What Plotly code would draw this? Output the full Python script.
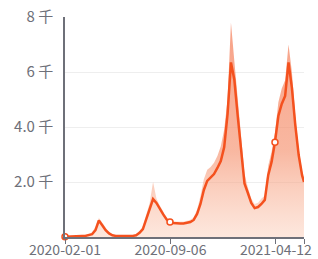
import pandas as pd
import plotly.graph_objects as go

# weekly sample dates from 2020-02-01, plus the final date
week_starts = pd.date_range("2020-02-01", periods=71, freq="7D")
end_date = pd.Timestamp("2021-06-09")
dates = list(week_starts) + [end_date]

# smoothed (moving average) series
line_vals = [
    10, 20, 25, 30, 30, 35, 40, 60,
    100, 250, 600, 430, 250, 130, 60,
    40, 35, 30, 30, 35, 40,
    60, 150, 290, 650, 1050, 1380, 1240, 1020, 820, 640,
    545, 510, 490, 490, 490, 510, 545, 620, 840, 1200,
    1710, 2040, 2150, 2290, 2510, 2760, 3260, 4470, 6350, 5720,
    4400, 3150, 1950, 1600, 1240, 1050, 1090, 1200, 1350, 2250,
    2730, 3450, 4400, 4840, 5130, 6350, 5420, 4070, 2980, 2250,
    2000,
]

# raw daily values (bars)
raw_vals = [
    20, 30, 35, 40, 40, 45, 55, 90,
    180, 380, 700, 520, 320, 170, 80,
    50, 45, 40, 40, 45, 55,
    90, 220, 400, 800, 1250, 2000, 1400, 1150, 920, 720,
    620, 580, 560, 560, 560, 590, 630, 720, 1000, 1500,
    2100, 2450, 2550, 2700, 2950, 3300, 3900, 5000, 7800, 6400,
    5000, 3700, 2300, 1800, 1400, 1200, 1250, 1400, 1500, 2600,
    3100, 3800, 4900, 5400, 5700, 7000, 6000, 4400, 3200, 2400,
    2100,
]

marker_idx = [0, 31, 62]

tick_dates = ["2020-02-01", "2020-09-06", "2021-04-12", "2021-06-09"]
tick_text = ["2020-02-01", "2020-09-06", "2021-04-12", ""]
y_ticks = [2000, 4000, 6000, 8000]
y_text = ["2.0 千", "4.0 千", "6 千", "8 千"]

LINE = "#f4511e"
AXIS = "#6e7079"
FONT = "Noto Sans CJK SC, Noto Sans, sans-serif"

fig = go.Figure()
fig.add_trace(go.Scatter(
    x=dates, y=raw_vals, mode="lines", line=dict(width=0),
    fill="tozeroy",
    fillgradient=dict(type="vertical",
                      colorscale=[[0, "rgba(250,195,170,0.4)"],
                                  [0.4, "rgba(245,145,110,0.65)"],
                                  [1, "rgba(245,130,95,0.75)"]]),
    hoverinfo="skip", showlegend=False,
))
fig.add_trace(go.Scatter(
    x=dates, y=line_vals, mode="lines",
    line=dict(color=LINE, width=2.5), showlegend=False,
))
fig.add_trace(go.Scatter(
    x=[dates[i] for i in marker_idx], y=[line_vals[i] for i in marker_idx],
    mode="markers",
    marker=dict(size=6, color="white", line=dict(color=LINE, width=1.5)),
    showlegend=False, cliponaxis=False,
))

fig.update_layout(
    width=318, height=259,
    margin=dict(l=65, r=14, t=17, b=22, autoexpand=False),
    paper_bgcolor="white", plot_bgcolor="white",
    font=dict(family=FONT, size=14, color=AXIS),
)
fig.update_xaxes(
    type="date", range=["2020-02-01", "2021-06-09"], automargin=False,
    tickvals=tick_dates, ticktext=tick_text,
    ticks="outside", ticklen=5, tickcolor=AXIS, ticklabelstandoff=-6,
    showline=True, linecolor=AXIS, linewidth=1.5,
    showgrid=False, zeroline=False,
    tickfont=dict(family=FONT, size=14, color=AXIS),
)
fig.update_yaxes(
    range=[0, 8000], tickvals=y_ticks, ticktext=y_text, automargin=False,
    showline=True, linecolor=AXIS, linewidth=1.5,
    showgrid=True, gridcolor="#eeeeee", gridwidth=1,
    zeroline=False, ticks="", ticklabelstandoff=7,
    tickfont=dict(family=FONT, size=15, color=AXIS),
)

fig.write_html("out.html", config={"displayModeBar": False})

# remove the default page margin so the figure sits at the window's corner
with open("out.html", "r", encoding="utf-8") as f:
    html = f.read()
html = html.replace("<body>", '<body style="margin:0;padding:0;overflow:hidden">', 1)
with open("out.html", "w", encoding="utf-8") as f:
    f.write(html)
